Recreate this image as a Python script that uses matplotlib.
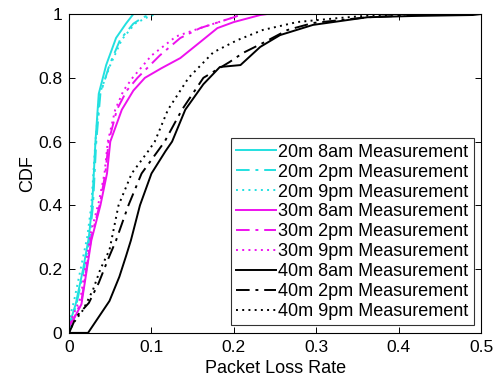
import matplotlib
matplotlib.use('Agg')
from matplotlib import pyplot as plt

plt.rcParams['font.family'] = ['Liberation Sans', 'DejaVu Sans']

# 20m series (cyan)
x_20_8am = [0, 0.002, 0.008, 0.017, 0.024, 0.028, 0.032, 0.036, 0.045, 0.057, 0.069, 0.078]
y_20_8am = [0.02, 0.04, 0.09, 0.2, 0.3, 0.4, 0.6, 0.75, 0.84, 0.925, 0.97, 1.0]
x_20_2pm = [0, 0.003, 0.009, 0.018, 0.025, 0.029, 0.033, 0.038, 0.049, 0.062, 0.078, 0.09, 0.1]
y_20_2pm = [0.01, 0.04, 0.09, 0.2, 0.3, 0.4, 0.6, 0.75, 0.84, 0.92, 0.97, 0.99, 1.0]
x_20_9pm = [0, 0.002, 0.006, 0.014, 0.022, 0.027, 0.032, 0.037, 0.05, 0.064, 0.08, 0.095, 0.105]
y_20_9pm = [0.03, 0.06, 0.1, 0.2, 0.3, 0.4, 0.6, 0.75, 0.84, 0.92, 0.97, 0.99, 1.0]

# 30m series (magenta)
x_30_8am = [0, 0.005, 0.015, 0.021, 0.027, 0.038, 0.046, 0.05, 0.064, 0.078, 0.092, 0.112, 0.135,
            0.159, 0.18, 0.2, 0.232, 0.24]
y_30_8am = [0.03, 0.04, 0.09, 0.19, 0.29, 0.4, 0.5, 0.6, 0.7, 0.76, 0.8, 0.83, 0.862,
            0.912, 0.956, 0.975, 0.997, 1.0]
x_30_2pm = [0, 0.005, 0.015, 0.021, 0.027, 0.037, 0.044, 0.048, 0.058, 0.07, 0.083, 0.11, 0.135,
            0.159, 0.2, 0.21]
y_30_2pm = [0.02, 0.04, 0.1, 0.2, 0.3, 0.4, 0.5, 0.6, 0.7, 0.76, 0.8, 0.87, 0.925,
            0.956, 0.99, 1.0]
x_30_9pm = [0, 0.004, 0.014, 0.02, 0.026, 0.036, 0.043, 0.047, 0.056, 0.066, 0.077, 0.1, 0.13,
            0.159, 0.2, 0.21]
y_30_9pm = [0.03, 0.05, 0.11, 0.21, 0.31, 0.41, 0.5, 0.6, 0.7, 0.76, 0.8, 0.87, 0.93,
            0.956, 0.99, 1.0]

# 40m series (black)
x_40_8am = [0, 0.023, 0.036, 0.049, 0.061, 0.069, 0.075, 0.086, 0.1, 0.117, 0.125, 0.141, 0.163,
            0.183, 0.208, 0.232, 0.256, 0.296, 0.362, 0.418, 0.49, 0.5]
y_40_8am = [0, 0, 0.05, 0.1, 0.176, 0.24, 0.29, 0.4, 0.5, 0.57, 0.6, 0.7, 0.78,
            0.834, 0.84, 0.897, 0.934, 0.966, 0.99, 0.994, 0.997, 1.0]
x_40_2pm = [0, 0.0085, 0.024, 0.036, 0.047, 0.057, 0.072, 0.088, 0.116, 0.137, 0.163, 0.195,
            0.211, 0.235, 0.265, 0.296, 0.362, 0.45]
y_40_2pm = [0, 0.05, 0.094, 0.157, 0.229, 0.29, 0.4, 0.5, 0.6, 0.7, 0.8, 0.85,
            0.878, 0.909, 0.95, 0.972, 0.99, 1.0]
x_40_9pm = [0, 0.005, 0.017, 0.029, 0.038, 0.049, 0.06, 0.076, 0.096, 0.104, 0.12, 0.145,
            0.175, 0.204, 0.235, 0.277, 0.325, 0.362, 0.42]
y_40_9pm = [0, 0.03, 0.072, 0.135, 0.2, 0.26, 0.4, 0.5, 0.57, 0.6, 0.7, 0.8,
            0.88, 0.918, 0.95, 0.975, 0.987, 0.995, 1.0]

labels = ['20m 8am Measurement', '20m 2pm Measurement', '20m 9pm Measurement',
          '30m 8am Measurement', '30m 2pm Measurement', '30m 9pm Measurement',
          '40m 8am Measurement', '40m 2pm Measurement', '40m 9pm Measurement']

cyan = '#22e0e0'
magenta = '#ee11ee'
dashdot = (0, (7, 3, 1.5, 3))
dotted = (0, (1, 2.2))

fig = plt.figure(figsize=(4.97, 3.8), dpi=100)
ax = fig.add_axes([0.139, 0.124, 0.829, 0.839])

series = [
    (x_20_8am, y_20_8am, cyan, '-'),
    (x_20_2pm, y_20_2pm, cyan, dashdot),
    (x_20_9pm, y_20_9pm, cyan, dotted),
    (x_30_8am, y_30_8am, magenta, '-'),
    (x_30_2pm, y_30_2pm, magenta, dashdot),
    (x_30_9pm, y_30_9pm, magenta, dotted),
    (x_40_8am, y_40_8am, 'black', '-'),
    (x_40_2pm, y_40_2pm, 'black', dashdot),
    (x_40_9pm, y_40_9pm, 'black', dotted),
]
for (xs, ys, col, ls), lab in zip(series, labels):
    ax.plot(xs, ys, color=col, linestyle=ls, linewidth=1.4, label=lab)

ax.set_xlim(0, 0.5)
ax.set_ylim(0, 1)
ax.set_xticks([0, 0.1, 0.2, 0.3, 0.4, 0.5])
ax.set_xticklabels(['0', '0.1', '0.2', '0.3', '0.4', '0.5'])
ax.set_yticks([0, 0.2, 0.4, 0.6, 0.8, 1])
ax.set_yticklabels(['0', '0.2', '0.4', '0.6', '0.8', '1'])
ax.tick_params(direction='in', top=True, right=True, labelsize=12.5, length=4, width=0.7)
ax.tick_params(axis='x', pad=5)
ax.tick_params(axis='y', pad=5)
for sp in ax.spines.values():
    sp.set_linewidth(0.8)
ax.set_xlabel('Packet Loss Rate', fontsize=13, labelpad=4)
ax.set_ylabel('CDF', fontsize=13, labelpad=1)

leg = ax.legend(loc='lower right', fontsize=13, frameon=True, fancybox=False,
                edgecolor='black', handlelength=2.2, handletextpad=0.12,
                labelspacing=0.16, borderaxespad=0.42, borderpad=0.3)
leg.get_frame().set_linewidth(0.8)

fig.savefig('out.png', dpi=100)
